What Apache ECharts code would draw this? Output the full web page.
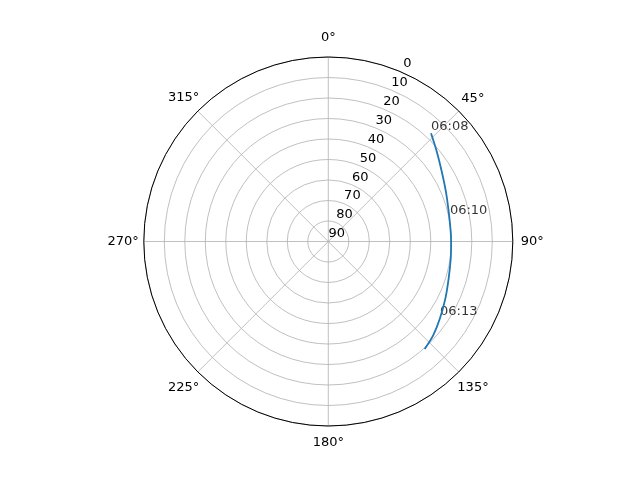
<!DOCTYPE html>
<html>
<head>
<meta charset="utf-8">
<script src="https://cdn.jsdelivr.net/npm/echarts@6/dist/echarts.min.js"></script>
<style>
  html, body { margin: 0; padding: 0; background: #fff; }
  #chart-container { width: 640px; height: 480px; }
</style>
</head>
<body>
<div id="chart-container"></div>
<script>
// pasada del satelite: azimut (grados) y elevacion (grados)
const azimut = [43.5, 50.4, 58.4, 67.1, 76.1, 85.4, 90.1, 97.8, 107.0, 115.9, 124.5, 131.7, 138.1];
const elevacion = [17.2, 21.3, 25.0, 27.7, 29.5, 30.1, 30.1, 29.7, 28.6, 26.5, 23.9, 21.4, 19.6];

// etiquetas de hora sobre la trayectoria
const horas = ['06:08', '06:10', '06:13'];
const horasAz = [43.5, 78.6, 124.3];
const horasEl = [17.2, 29.5, 24.0];

const radioTicks = [0, 10, 20, 30, 40, 50, 60, 70, 80, 90];

let myChart = echarts.init(document.getElementById('chart-container'), null, {
  renderer: 'canvas'
});

const fuente = 'DejaVu Sans';
const gris = '#b0b0b0';

const trayectoria = azimut.map((a, i) => [elevacion[i], a]);
const marcas = horas.map((h, i) => ({ value: [horasEl[i], horasAz[i]], name: h }));

// estilo de la etiqueta angular segun su posicion
const estiloAngulo = { 0: 'a0', 45: 'a45', 90: 'a90', 135: 'a135', 180: 'a180', 225: 'a225', 270: 'a270', 315: 'a315' };
function etiquetaAngulo(v) {
  if (v === 360) return '';
  return '{' + estiloAngulo[v] + '|' + v + '°}';
}

const estiloTxt = { color: '#000', fontSize: 13, fontFamily: fuente };
const conPadding = p => Object.assign({ padding: p }, estiloTxt);

const opciones = {
  animation: false,
  textStyle: { fontFamily: fuente },
  polar: [
    { center: [328.3, 241.5], radius: 184.5 },
    // solo para colocar las etiquetas del radio a 22.5 grados
    { center: [336.7, 234], radius: 184.5 }
  ],
  angleAxis: [
    {
      polarIndex: 0,
      type: 'value',
      min: 0,
      max: 360,
      interval: 45,
      startAngle: 90,
      clockwise: true,
      axisLine: { lineStyle: { color: '#000', width: 1 } },
      axisTick: { show: false },
      axisLabel: {
        margin: -2,
        color: '#000',
        fontSize: 13,
        fontFamily: fuente,
        formatter: etiquetaAngulo,
        rich: {
          a0: conPadding([0, 0, 15, 0]),
          a45: conPadding([0, 0, 7, 4]),
          a90: conPadding([0, 0, 0, 10]),
          a135: conPadding([11, 0, 0, 0]),
          a180: conPadding([12, 0, 0, 0]),
          a225: conPadding([11, 0, 0, 0]),
          a270: conPadding([0, 7, 0, 0]),
          a315: conPadding([0, 0, 8, 0])
        }
      },
      splitLine: { show: true, lineStyle: { color: gris, width: 0.8 } }
    },
    {
      polarIndex: 1,
      type: 'value',
      min: 0,
      max: 360,
      startAngle: 67.5,
      clockwise: true,
      axisLine: { show: false },
      axisTick: { show: false },
      axisLabel: { show: false },
      splitLine: { show: false }
    }
  ],
  radiusAxis: [
    {
      polarIndex: 0,
      type: 'value',
      min: 0,
      max: 90,
      interval: 10,
      inverse: true,
      axisLine: { show: false },
      axisTick: { show: false },
      axisLabel: { show: false },
      splitLine: { show: true, lineStyle: { color: gris, width: 0.8 } }
    },
    {
      polarIndex: 1,
      type: 'value',
      min: 0,
      max: 90,
      interval: 10,
      inverse: true,
      axisLine: { show: false },
      axisTick: { show: false },
      axisLabel: {
        margin: 0,
        align: 'center',
        verticalAlign: 'middle',
        color: '#000',
        fontSize: 13,
        fontFamily: fuente,
        formatter: v => (radioTicks.indexOf(v) >= 0 ? String(v) : '')
      },
      splitLine: { show: false }
    }
  ],
  series: [
    {
      type: 'line',
      coordinateSystem: 'polar',
      polarIndex: 0,
      data: trayectoria,
      smooth: 0.3,
      showSymbol: false,
      lineStyle: { color: '#1f77b4', width: 1.8 }
    },
    {
      type: 'scatter',
      coordinateSystem: 'polar',
      polarIndex: 0,
      data: marcas,
      symbolSize: 0,
      label: {
        show: true,
        position: [0, 0],
        align: 'left',
        verticalAlign: 'bottom',
        color: '#000',
        fontSize: 13,
        fontFamily: fuente,
        formatter: p => p.name
      }
    }
  ]
};

myChart.setOption(opciones);
window.addEventListener('resize', myChart.resize);
</script>
</body>
</html>
